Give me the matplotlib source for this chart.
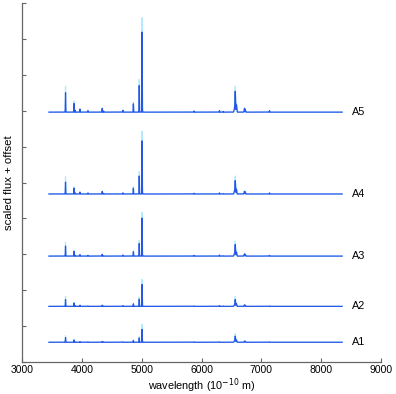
import numpy as np
import matplotlib
matplotlib.use("Agg")
import matplotlib.pyplot as plt

plt.rcParams['font.family'] = ['Liberation Sans', 'DejaVu Sans']

# emission-line centres (Angstrom)
line_wl = [3727, 3869, 3889, 3968, 4102, 4340, 4363, 4686, 4861, 4959, 5007,
           5876, 6300, 6364, 6548, 6563, 6584, 6717, 6731, 7136]
line_sigma = [2.5, 2.5, 2.5, 2.5, 2.5, 2.5, 2.5, 2.5, 2.5, 2.5, 2.5,
              2.5, 2.5, 2.5, 5, 5, 5, 3.5, 3.5, 2.5]

labels = ["A1", "A2", "A3", "A4", "A5"]
offsets = [0.55, 1.55, 2.95, 4.68, 6.96]
wl_start, wl_end = 3450, 8350

# blue (main) line heights per spectrum
A1_main = [0.13, 0.06, 0.01, 0.02, 0.01, 0.02, 0.01, 0.01, 0.05, 0.12, 0.36,
           0.01, 0.01, 0.00, 0.03, 0.17, 0.06, 0.03, 0.03, 0.01]
A2_main = [0.19, 0.09, 0.02, 0.03, 0.01, 0.03, 0.01, 0.02, 0.07, 0.20, 0.61,
           0.01, 0.02, 0.01, 0.04, 0.19, 0.07, 0.04, 0.03, 0.01]
A3_main = [0.28, 0.13, 0.02, 0.04, 0.02, 0.05, 0.01, 0.03, 0.12, 0.35, 1.06,
           0.02, 0.03, 0.01, 0.06, 0.32, 0.11, 0.06, 0.05, 0.02]
A4_main = [0.33, 0.16, 0.03, 0.05, 0.03, 0.07, 0.02, 0.03, 0.16, 0.50, 1.48,
           0.02, 0.03, 0.01, 0.07, 0.37, 0.13, 0.07, 0.06, 0.03]
A5_main = [0.54, 0.24, 0.05, 0.08, 0.04, 0.10, 0.03, 0.05, 0.23, 0.74, 2.23,
           0.03, 0.04, 0.02, 0.10, 0.58, 0.20, 0.10, 0.08, 0.04]

# light (upper envelope) line heights per spectrum
A1_upper = [0.18, 0.08, 0.01, 0.02, 0.01, 0.03, 0.01, 0.01, 0.06, 0.16, 0.50,
            0.01, 0.01, 0.00, 0.04, 0.24, 0.08, 0.04, 0.03, 0.01]
A2_upper = [0.28, 0.12, 0.02, 0.04, 0.02, 0.04, 0.01, 0.02, 0.09, 0.26, 0.75,
            0.01, 0.02, 0.01, 0.05, 0.28, 0.09, 0.05, 0.04, 0.01]
A3_upper = [0.39, 0.16, 0.03, 0.05, 0.03, 0.06, 0.02, 0.03, 0.15, 0.44, 1.22,
            0.02, 0.03, 0.01, 0.07, 0.41, 0.14, 0.07, 0.06, 0.02]
A4_upper = [0.48, 0.20, 0.04, 0.06, 0.03, 0.08, 0.02, 0.04, 0.20, 0.62, 1.75,
            0.02, 0.04, 0.01, 0.09, 0.50, 0.16, 0.09, 0.07, 0.03]
A5_upper = [0.72, 0.30, 0.06, 0.10, 0.05, 0.12, 0.04, 0.06, 0.28, 0.91, 2.63,
            0.04, 0.05, 0.02, 0.13, 0.72, 0.25, 0.13, 0.10, 0.05]

main_sets = [A1_main, A2_main, A3_main, A4_main, A5_main]
upper_sets = [A1_upper, A2_upper, A3_upper, A4_upper, A5_upper]


def spectrum(wl, heights):
    f = np.zeros_like(wl)
    for c, h, s in zip(line_wl, heights, line_sigma):
        f += h * np.exp(-0.5 * ((wl - c) / s) ** 2)
    return f


fig = plt.figure(figsize=(3.96, 3.94), dpi=100)
ax = fig.add_axes([0.0556, 0.0812, 0.9066, 0.9112])

wl = np.arange(wl_start, wl_end + 1, 1.0)
for lab, off, main, upper in zip(labels, offsets, main_sets, upper_sets):
    ax.plot(wl, off + spectrum(wl, upper), color='#b4eaff', lw=0.9, zorder=2)
    ax.plot(wl, off + spectrum(wl, main), color='#2656e6', lw=0.9, zorder=3)
    ax.text(8510, off, lab, va='center', ha='left', fontsize=7.8)

ax.set_xlim(3000, 9000)
ax.set_ylim(0, 10)
ax.set_xticks([3000, 4000, 5000, 6000, 7000, 8000, 9000])
ax.set_yticks(np.arange(0, 11, 1))
ax.set_yticklabels([])
ax.tick_params(direction='in', length=3, width=0.8, colors='#666666',
               labelcolor='black', labelsize=7.5, pad=2.5)
for s in ['top', 'right']:
    ax.spines[s].set_visible(False)
for s in ['left', 'bottom']:
    ax.spines[s].set_color('#666666')
    ax.spines[s].set_linewidth(0.9)
ax.set_xlabel('wavelength (10$^{-10}$ m)', fontsize=7.8)
ax.set_ylabel('scaled flux + offset', fontsize=8.2)
ax.xaxis.set_label_coords(0.5, -0.041)
ax.yaxis.set_label_coords(-0.022, 0.5)

fig.savefig('out.png', dpi=100)
